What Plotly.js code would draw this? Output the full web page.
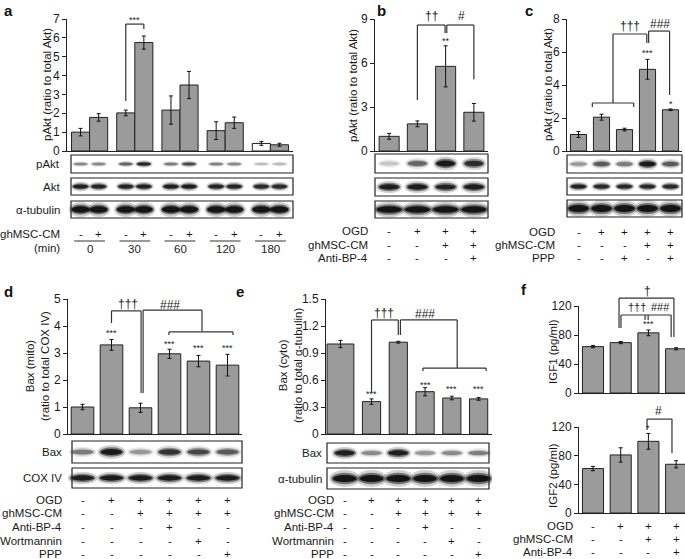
<!DOCTYPE html>
<html><head><meta charset="utf-8">
<script src="https://cdn.plot.ly/plotly-3.0.1.min.js"></script>
<style>html,body{margin:0;padding:0;background:#fff}#g{width:685px;height:559px}</style>
</head><body><div id="g"></div>
<script>
const F = 'Liberation Sans, Arial, sans-serif';
// ---------------- data ----------------
// panel a
const aTimes = ['0','30','60','120','180'];
const aMinus = [1.0, 2.02, 2.17, 1.08, 0.4];
const aMinusErr = [0.2, 0.15, 0.75, 0.47, 0.1];
const aPlus = [1.78, 5.75, 3.5, 1.5, 0.33];
const aPlusErr = [0.2, 0.35, 0.72, 0.3, 0.08];
const aSigns = ['-','+'];
const aPAkt = [0.35,0.35,0.5,0.85,0.4,0.62,0.38,0.35,0.18,0.2];
const aAkt  = [0.9,0.85,0.85,0.88,0.9,0.92,0.85,0.85,0.8,0.8];
const aTub  = [1,1,1,1,1,1,1,1,1,1];
// panel b
const bVals = [1.0, 1.85, 5.77, 2.64];
const bErr  = [0.2, 0.2, 1.4, 0.6];
const bOGD  = ['-','+','+','+'];
const bCM   = ['-','-','+','+'];
const bAnti = ['-','-','-','+'];
const bPAkt = [0.15,0.5,0.95,0.8];
const bAkt  = [0.92,0.92,0.88,0.92];
const bTub  = [1,1,1,1];
// panel c
const cVals = [1.0, 2.05, 1.3, 4.95, 2.5];
const cErr  = [0.18, 0.18, 0.08, 0.6, 0.05];
const cOGD  = ['-','+','+','+','+'];
const cCM   = ['-','-','-','+','+'];
const cPPP  = ['-','-','+','-','+'];
const cPAkt = [0.3,0.55,0.4,0.95,0.55];
const cAkt  = [0.88,0.82,0.82,0.82,0.82];
const cTub  = [1,1,1,1,1];
// panel d
const dVals = [1.0, 3.3, 0.97, 2.97, 2.7, 2.55];
const dErr  = [0.1, 0.2, 0.17, 0.17, 0.21, 0.4];
const dBax  = [0.4,0.95,0.3,0.75,0.65,0.55];
const dCox  = [0.92,0.92,0.92,0.92,0.92,0.92];
// panels d & e conditions
const deOGD  = ['-','+','+','+','+','+'];
const deCM   = ['-','-','+','+','+','+'];
const deAnti = ['-','-','-','+','-','-'];
const deWort = ['-','-','-','-','+','-'];
const dePPP  = ['-','-','-','-','-','+'];
// panel e
const eVals = [1.0, 0.36, 1.02, 0.47, 0.40, 0.39];
const eErr  = [0.04, 0.03, 0.01, 0.045, 0.02, 0.015];
const eBax  = [0.9,0.35,0.9,0.3,0.35,0.4];
const eTub  = [1,1,1,1,1,1];
// panel f
const fIGF1 = [64, 69.5, 83, 61];
const fIGF1Err = [1.5, 1.5, 4, 1.5];
const fIGF2 = [62, 81, 100, 68];
const fIGF2Err = [3, 10, 11, 5];
const fOGD  = ['-','+','+','+'];
const fCM   = ['-','-','+','+'];
const fAnti = ['-','-','-','+'];

// ---------------- layout helpers ----------------
const W = 685, H = 559;
const P = {
  a:  {x:'x',  y:'y',  xd:[67,293],  yd:[19,151],  xr:[-0.5,4.5],  yr:[0,7],   tv:[0,1,2,3,4,5,6,7]},
  b:  {x:'x2', y:'y2', xd:[375,488], yd:[19,151],  xr:[-0.5,3.5],  yr:[0,9],   tv:[0,3,6,9]},
  c:  {x:'x3', y:'y3', xd:[567,682], yd:[19,151],  xr:[-0.5,4.5],  yr:[0,8],   tv:[0,2,4,6,8]},
  d:  {x:'x4', y:'y4', xd:[68,242],  yd:[299,434], xr:[-0.5,5.5],  yr:[0,5],   tv:[0,1,2,3,4,5]},
  e:  {x:'x5', y:'y5', xd:[326,492], yd:[299,434], xr:[-0.7,5.5],  yr:[0,1.5], tv:[0,0.3,0.6,0.9,1.2,1.5]},
  f1: {x:'x6', y:'y6', xd:[579,685], yd:[306,393], xr:[-0.505,3.32], yr:[0,120], tv:[0,40,80,120]},
  f2: {x:'x7', y:'y7', xd:[579,685], yd:[427,513], xr:[-0.505,3.32], yr:[0,120], tv:[0,40,80,120]},
};
const py = px => 1 - px / H;
const pxX = px => px / W;
function yp(p, v) { const q = P[p]; return py(q.yd[1] - (v - q.yr[0]) / (q.yr[1] - q.yr[0]) * (q.yd[1] - q.yd[0])); }
const idx = arr => arr.map((_, i) => i);

const layout = {
  width: W, height: H, margin: {l:0, r:0, t:0, b:0},
  paper_bgcolor: '#fff', plot_bgcolor: 'rgba(0,0,0,0)',
  barmode: 'overlay', showlegend: false,
  font: {family: F, size: 12, color: '#1a1a1a'},
  shapes: [], annotations: []
};
Object.keys(P).forEach(k => {
  const q = P[k];
  const xn = q.x === 'x' ? 'xaxis' : 'xaxis' + q.x.slice(1);
  const yn = q.y === 'y' ? 'yaxis' : 'yaxis' + q.y.slice(1);
  layout[xn] = {domain:[pxX(q.xd[0]), Math.min(1, pxX(q.xd[1]))], range:q.xr, anchor:q.y,
    showline:true, linecolor:'#222', linewidth:1, ticks:'', showticklabels:false,
    showgrid:false, zeroline:false, fixedrange:true};
  layout[yn] = {domain:[py(q.yd[1]), py(q.yd[0])], range:q.yr, anchor:q.x,
    tickvals:q.tv, ticktext:q.tv.map(String),
    showline:true, linecolor:'#222', linewidth:1, ticks:'outside', ticklen:4, tickcolor:'#222',
    tickfont:{family:F, size:12, color:'#1a1a1a'}, showgrid:false, zeroline:false, fixedrange:true};
});
const shapes = layout.shapes, ann = layout.annotations;
function txt(text, xref, x, y, opts) {
  ann.push(Object.assign({text, xref, x, yref:'paper', y, showarrow:false,
    font:{family:F, size:11.5, color:'#1a1a1a'}, xanchor:'center', yanchor:'middle'}, opts || {}));
}
function seg(p, s) {
  const q = P[p];
  s.forEach(([x0,v0,x1,v1]) => shapes.push({type:'line', xref:q.x, yref:'paper',
    x0, x1, y0:yp(p,v0), y1:yp(p,v1), line:{color:'#333', width:1.2}}));
}
function sig(p, list, size) {
  list.forEach(([t, x, v]) => txt(t, P[p].x, x, yp(p, v), {font:{family:F, size:size || 12, color:'#222'}}));
}
function blot(p, lanes, I, y0, y1, hw, hhBase, boxX, label, labelX) {
  const q = P[p];
  const yc = (y0 + y1) / 2;
  lanes.forEach((c, i) => {
    const hh = hhBase * (0.6 + 0.4 * I[i]);
    [[1.15,1.7,0.2],[1.0,1.15,0.5],[0.88,0.72,0.95]].forEach(([sx, sy, a]) => {
      shapes.push({type:'circle', xref:q.x, yref:'paper', x0:c-hw*sx, x1:c+hw*sx,
        y0:py(yc+hh*sy), y1:py(yc-hh*sy), fillcolor:`rgba(15,15,15,${(a*I[i]).toFixed(3)})`,
        line:{width:0}, layer:'above'});
    });
  });
  shapes.push({type:'rect', xref:'paper', yref:'paper', x0:pxX(boxX[0]), x1:pxX(boxX[1]),
    y0:py(y1), y1:py(y0), line:{color:'#222', width:1.2}, fillcolor:'rgba(0,0,0,0)', layer:'above'});
  if (label) txt(label, 'paper', pxX(labelX), py(yc), {xanchor:'right'});
}
function condRows(p, rows, ys, labelX) {
  rows.forEach(([label, signs], r) => {
    txt(label, 'paper', pxX(labelX), py(ys[r]), {xanchor:'right'});
    signs.forEach((s, i) => txt(s, P[p].x, i, py(ys[r])));
  });
}
function bar(p, xs, ys, err, extra) {
  return Object.assign({type:'bar', x:xs, y:ys, xaxis:P[p].x, yaxis:P[p].y,
    marker:{color:'#9b9b9b', line:{color:'#222', width:1}},
    error_y:{type:'data', array:err, visible:true, color:'#111', thickness:1, width:2},
    hoverinfo:'skip', cliponaxis:false, showlegend:false}, extra || {});
}
function ylab(text, x, y) { txt(text, 'paper', pxX(x), py(y), {textangle:-90}); }
function letter(t, x, ytop) { txt(t, 'paper', pxX(x), py(ytop), {xanchor:'left', yanchor:'top', font:{family:F, size:15, color:'#111', weight:'bold'}}); }

// ---------------- traces ----------------
const data = [];
// a
data.push(bar('a', idx(aTimes), aMinus, aMinusErr, {offset:-0.4, width:0.4,
  marker:{color:aTimes.map((t,i)=> i===aTimes.length-1 ? '#ffffff' : '#9b9b9b'), line:{color:'#222', width:1}}}));
data.push(bar('a', idx(aTimes), aPlus, aPlusErr, {offset:0, width:0.4}));
// b, c, d
data.push(bar('b', idx(bVals), bVals, bErr, {width:0.71}));
data.push(bar('c', idx(cVals), cVals, cErr, {width:0.7}));
data.push(bar('d', idx(dVals), dVals, dErr, {width:0.78}));
// e (first bar drawn wider, as in the figure)
data.push(bar('e', idx(eVals), eVals, eErr, {width:eVals.map((v,i)=> i===0 ? 1.0 : 0.68),
  offset:eVals.map((v,i)=> i===0 ? -0.66 : -0.34)}));
// f
data.push(bar('f1', idx(fIGF1), fIGF1, fIGF1Err, {width:0.76}));
data.push(bar('f2', idx(fIGF2), fIGF2, fIGF2Err, {width:0.76}));

// ---------------- panel a decorations ----------------
letter('a', 2, 0);
ylab('pAkt (ratio to total Akt)', 47, 85);
const aLanes = [];
aTimes.forEach((t, i) => { aLanes.push(i - 0.2, i + 0.2); });
blot('a', aLanes, aPAkt, 155, 173, 0.17, 2.4, [71,293], 'pAkt', 62);
blot('a', aLanes, aAkt, 178, 195, 0.19, 3.0, [71,293], 'Akt', 62);
blot('a', aLanes, aTub, 201, 218, 0.225, 4.4, [71,293], 'α-tubulin', 62);
txt('ghMSC-CM', 'paper', pxX(62), py(234), {xanchor:'right'});
txt('(min)', 'paper', pxX(62), py(248), {xanchor:'right'});
aTimes.forEach((t, i) => {
  txt(aSigns[0], 'x', i - 0.2, py(234));
  txt(aSigns[1], 'x', i + 0.2, py(234));
  txt(t, 'x', i, py(249));
  shapes.push({type:'line', xref:'x', yref:'paper', x0:i-0.34, x1:i+0.34, y0:py(241), y1:py(241), line:{color:'#333', width:1}});
});
seg('a', [[0.8,2.65,0.8,6.73],[0.8,6.73,1.2,6.73],[1.2,6.73,1.2,6.47]]);
sig('a', [['***',1.0,6.97]], 9);

// ---------------- panel b ----------------
letter('b', 375, 0);
ylab('pAkt (ratio to total Akt)', 353, 85);
const bx = [375,488];
blot('b', idx(bVals), bPAkt, 154, 173, 0.38, 4.2, bx);
blot('b', idx(bVals), bAkt, 178, 196, 0.40, 3.8, bx);
blot('b', idx(bVals), bTub, 201, 218, 0.5, 4.6, bx);
condRows('b', [['OGD', bOGD], ['ghMSC-CM', bCM], ['Anti-BP-4', bAnti]], [231,245,258], 370);
seg('b', [[1,3.48,1,8.59],[1,8.59,1.98,8.59],[1.98,8.59,1.98,8.04],
          [2.04,8.04,2.04,8.59],[2.04,8.59,3,8.59],[3,8.59,3,4.9]]);
sig('b', [['††',1.5,9.2],['#',2.55,9.2]], 12);
sig('b', [['**',2,7.5]], 9);

// ---------------- panel c ----------------
letter('c', 523, 0);
ylab('pAkt (ratio to total Akt)', 548, 85);
const cx = [567,682];
blot('c', idx(cVals), cPAkt, 155, 173, 0.40, 3.6, cx);
blot('c', idx(cVals), cAkt, 178, 195, 0.38, 3.0, cx);
blot('c', idx(cVals), cTub, 200, 217, 0.5, 4.8, cx);
condRows('c', [['OGD', cOGD], ['ghMSC-CM', cCM], ['PPP', cPPP]], [232,245,258], 557);
seg('c', [[0.6,2.67,0.6,2.91],[0.6,2.91,2.4,2.91],[2.4,2.91,2.4,2.67],
          [1.5,2.91,1.5,7.09],[1.5,7.09,2.97,7.09],[2.97,7.09,2.97,6.55],
          [3.05,6.55,3.05,7.27],[3.05,7.27,3.96,7.27],[3.96,7.27,3.96,3.39]]);
sig('c', [['†††',2.24,7.6],['###',3.54,7.7]], 12);
sig('c', [['***',3,5.94],['*',4,2.85]], 9);

// ---------------- panel d ----------------
letter('d', 2, 281);
ylab('Bax (mito)<br>(ratio to total COX IV)', 37, 366);
const dx = [72,242];
blot('d', idx(dVals), dBax, 441, 463, 0.42, 4.2, dx, 'Bax', 64);
blot('d', idx(dVals), dCox, 468, 488, 0.45, 3.8, dx, 'COX IV', 64);
condRows('d', [['OGD', deOGD], ['ghMSC-CM', deCM], ['Anti-BP-4', deAnti], ['Wortmannin', deWort], ['PPP', dePPP]],
  [500,513,527,541,554], 64);
seg('d', [[1,4.11,1,4.56],[1,4.56,2.02,4.56],[2.02,4.56,2.02,1.52],
          [2.09,1.52,2.09,4.59],[2.09,4.59,4.12,4.59],[4.12,4.59,4.12,3.81],
          [2.98,3.67,2.98,3.78],[2.98,3.78,5.19,3.78],[5.19,3.78,5.19,3.67]]);
sig('d', [['†††',1.57,4.81],['###',3.02,4.78]], 12);
sig('d', [['***',1,3.74],['***',3,3.33],['***',4,3.19],['***',5,3.19]], 9);

// ---------------- panel e ----------------
letter('e', 234, 281);
ylab('Bax (cyto)<br>(ratio to total α-tubulin)', 290, 366);
const ex = [327,489];
blot('e', idx(eVals), eBax, 443, 463, 0.42, 3.8, ex, 'Bax', 324);
blot('e', idx(eVals), eTub, 468, 489, 0.5, 5.0, ex, 'α-tubulin', 324);
condRows('e', [['OGD', deOGD], ['ghMSC-CM', deCM], ['Anti-BP-4', deAnti], ['Wortmannin', deWort], ['PPP', dePPP]],
  [500,513,527,541,554], 336);
seg('e', [[1,0.456,1,1.267],[1,1.267,2.0,1.267],[2.0,1.267,2.0,1.1],
          [2.08,1.1,2.08,1.267],[2.08,1.267,4.2,1.267],[4.2,1.267,4.2,0.733],
          [2.92,0.7,2.92,0.733],[2.92,0.733,5.28,0.733],[5.28,0.733,5.28,0.7]]);
sig('e', [['†††',1.47,1.34],['###',3.0,1.33]], 12);
sig('e', [['***',1,0.44],['***',3,0.54],['***',4,0.5],['***',5,0.5]], 9);

// ---------------- panel f ----------------
letter('f', 519, 279);
ylab('IGF1 (pg/ml)', 553, 352);
ylab('IGF2 (pg/ml)', 553, 476);
condRows('f1', [['OGD', fOGD], ['ghMSC-CM', fCM], ['Anti-BP-4', fAnti]], [526,539,552], 575);
seg('f1', [[0.94,89.7,0.94,131],[0.94,131,2.92,131],[2.92,131,2.92,77.2],
           [1.01,89.7,1.01,107.6],[1.01,107.6,2.82,107.6],[2.82,107.6,2.82,77.2],
           [1.88,107.6,1.88,100.7],[1.99,107.6,1.99,100.7]]);
sig('f1', [['†',1.95,141]], 12);
sig('f1', [['†††',1.6,119],['###',2.45,119]], 11);
sig('f1', [['***',2,95]], 9);
seg('f2', [[1.95,115.8,1.95,131],[1.95,131,2.85,131],[2.85,131,2.85,83.7]]);
sig('f2', [['#',2.38,142]], 12);
sig('f2', [['*',2,118.6]], 9);

Plotly.newPlot('g', data, layout, {staticPlot:true, displayModeBar:false});
</script>
</body></html>
